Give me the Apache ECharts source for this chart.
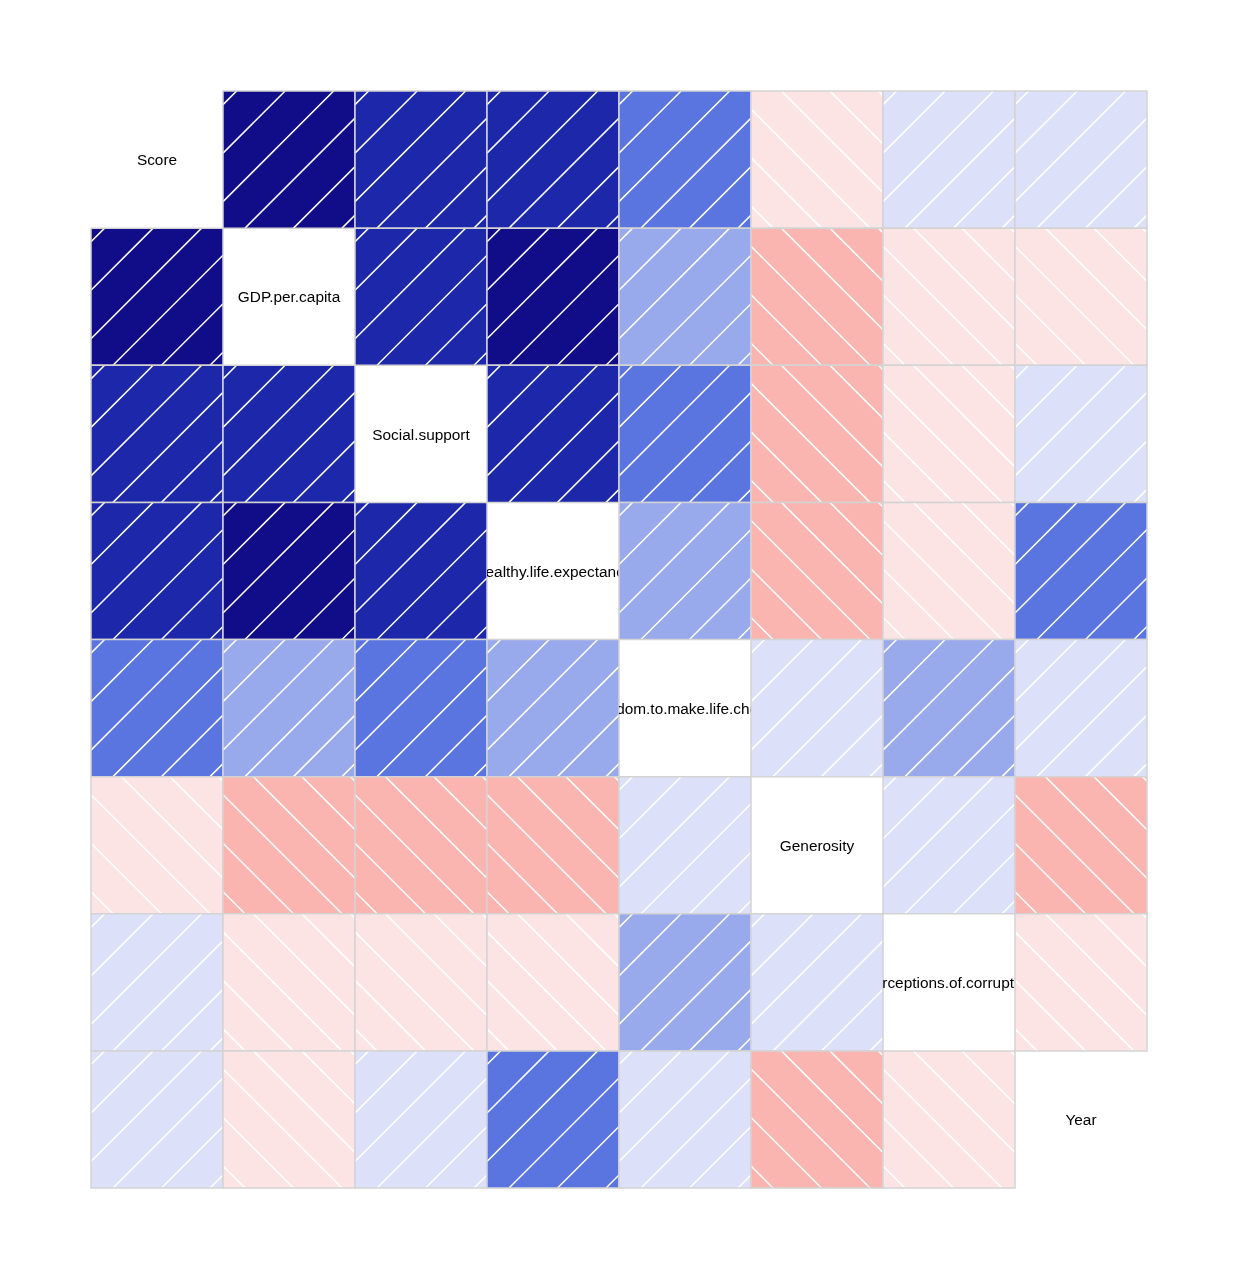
<!DOCTYPE html>
<html>
<head>
<meta charset="utf-8">
<script src="https://cdn.jsdelivr.net/npm/echarts@6/dist/echarts.min.js"></script>
<style>
  html, body { margin: 0; padding: 0; background: #fff; }
</style>
</head>
<body>
<div id="corrgram" style="width: 1238px; height: 1279px"></div>
<script>
var variables = [
  "Score",
  "GDP.per.capita",
  "Social.support",
  "Healthy.life.expectancy",
  "Freedom.to.make.life.choices",
  "Generosity",
  "Perceptions.of.corruption",
  "Year"
];

// correlation matrix, one row per variable (estimated from the shading)
var corScore       = [1, 0.89, 0.77, 0.78, 0.55, -0.04, 0.09, 0.03];
var corGDP         = [0.89, 1, 0.75, 0.87, 0.36, -0.21, -0.05, -0.02];
var corSocial      = [0.77, 0.75, 1, 0.76, 0.46, -0.18, -0.03, 0.06];
var corHealth      = [0.78, 0.87, 0.76, 1, 0.34, -0.24, -0.08, 0.52];
var corFreedom     = [0.55, 0.36, 0.46, 0.34, 1, 0.12, 0.38, 0.05];
var corGenerosity  = [-0.04, -0.21, -0.18, -0.24, 0.12, 1, 0.1, -0.2];
var corPerceptions = [0.09, -0.05, -0.03, -0.08, 0.38, 0.1, 1, -0.04];
var corYear        = [0.03, -0.02, 0.06, 0.52, 0.05, -0.2, -0.04, 1];

var corRows = [corScore, corGDP, corSocial, corHealth, corFreedom, corGenerosity, corPerceptions, corYear];

// 14 shades from -1 (red) to +1 (navy)
var palette = [
  "#ff0000", "#fc2a25", "#fb524a", "#f97a6e", "#f8988f", "#fab5b0", "#fde4e4",
  "#dce0f8", "#b9c5f2", "#98a9ec", "#5a74e0", "#3a4fc6", "#1c28a9", "#110d89"
];

function shade(r) {
  var idx = Math.floor((r + 1) / (2 / palette.length));
  if (idx >= palette.length) idx = palette.length - 1;
  if (idx < 0) idx = 0;
  return palette[idx];
}

var cells = [];
for (var i = 0; i < corRows.length; i++) {
  for (var j = 0; j < corRows[i].length; j++) {
    cells.push([j, i, corRows[i][j]]);
  }
}

var hatchStep = 48.5;
var hatchPhase = 22;

function hatchLines(x0, y0, w, h, positive) {
  // lines at 45 degrees, local coords with y pointing up from bottom-left
  var out = [];
  var lo = positive ? -h : 0;
  var hi = positive ? w : w + h;
  var n0 = Math.floor((lo - hatchPhase) / hatchStep);
  for (var n = n0; ; n++) {
    var c = hatchPhase + n * hatchStep;
    if (c > hi) break;
    var xa, xb, ya, yb;
    if (positive) {
      // y = x - c
      xa = Math.max(0, c);
      xb = Math.min(w, h + c);
      if (xb <= xa) continue;
      ya = xa - c; yb = xb - c;
    } else {
      // y = c - x
      xa = Math.max(0, c - h);
      xb = Math.min(w, c);
      if (xb <= xa) continue;
      ya = c - xa; yb = c - xb;
    }
    out.push({
      type: "line",
      shape: { x1: x0 + xa, y1: y0 + h - ya, x2: x0 + xb, y2: y0 + h - yb },
      style: { stroke: "#ffffff", lineWidth: 1.5 },
      silent: true
    });
  }
  return out;
}

function renderCell(params, api) {
  var col = api.value(0);
  var row = api.value(1);
  var r = api.value(2);
  var center = api.coord([col, row]);
  var size = api.size([1, 1]);
  var w = size[0], h = size[1];
  var x0 = center[0] - w / 2;
  var y0 = center[1] - h / 2;

  if (col === row) {
    // diagonal: variable name, clipped to its panel
    return {
      type: "group",
      clipPath: { type: "rect", shape: { x: x0, y: y0, width: w, height: h } },
      children: [{
        type: "text",
        x: center[0],
        y: center[1] + 1.5,
        style: {
          text: variables[row],
          fill: "#000000",
          font: '15.4px "Liberation Sans", Arial, sans-serif',
          align: "center",
          verticalAlign: "middle"
        }
      }]
    };
  }

  var children = [{
    type: "rect",
    shape: { x: x0, y: y0, width: w, height: h },
    style: { fill: shade(r) }
  }];
  children = children.concat(hatchLines(x0, y0, w, h, r > 0));
  children.push({
    type: "rect",
    shape: { x: x0, y: y0, width: w, height: h },
    style: { fill: null, stroke: "#d3d3d3", lineWidth: 1.5 }
  });
  return { type: "group", children: children };
}

var myChart = echarts.init(document.getElementById("corrgram"));
var option = {
  backgroundColor: "#ffffff",
  animation: false,
  grid: {
    left: 91,
    top: 91,
    width: 1056,
    height: 1097
  },
  xAxis: {
    type: "category",
    data: variables,
    show: false
  },
  yAxis: {
    type: "category",
    data: variables,
    inverse: true,
    show: false
  },
  series: [
    {
      type: "custom",
      renderItem: renderCell,
      data: cells,
      clip: false
    }
  ]
};
myChart.setOption(option);
</script>
</body>
</html>
